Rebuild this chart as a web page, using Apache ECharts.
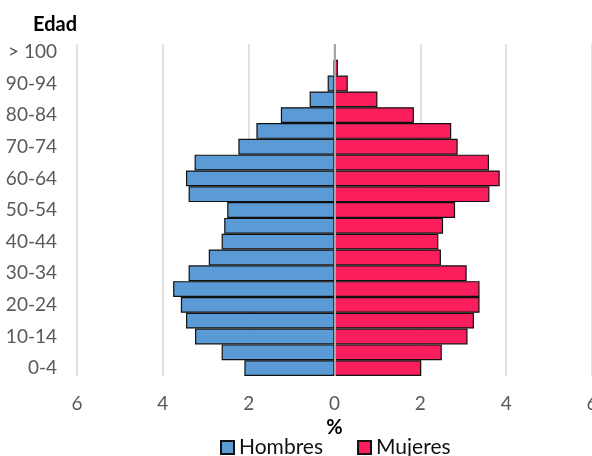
<!DOCTYPE html>
<html>
<head>
<meta charset="utf-8">
<script src="https://cdn.jsdelivr.net/npm/echarts@6/dist/echarts.min.js"></script>
<style>
  html, body { margin: 0; padding: 0; background: #fff; }
  #chart { width: 592px; height: 456px; }
</style>
</head>
<body>
<div id="chart"></div>
<script>
// grupos de edad, de abajo hacia arriba
const categories = ['0-4', '5-9', '10-14', '15-19', '20-24', '25-29', '30-34', '35-39',
  '40-44', '45-49', '50-54', '55-59', '60-64', '65-69', '70-74', '75-79',
  '80-84', '85-89', '90-94', '95-99', '> 100']
// porcentaje de la poblacion
const hombres = [2.10, 2.63, 3.25, 3.46, 3.58, 3.76, 3.40, 2.93, 2.63, 2.57, 2.50,
  3.40, 3.46, 3.26, 2.24, 1.82, 1.25, 0.58, 0.16, 0.02, 0]
const mujeres = [2.02, 2.50, 3.10, 3.25, 3.38, 3.38, 3.08, 2.48, 2.42, 2.53, 2.81,
  3.61, 3.85, 3.60, 2.87, 2.72, 1.85, 1.00, 0.31, 0.08, 0.01]
const xTicks = [-6, -4, -2, 0, 2, 4, 6]

const font = 'Lato, "Open Sans", sans-serif'

const chart = echarts.init(document.getElementById('chart'))
let option = {
  animation: false,
  textStyle: { fontFamily: font },
  title: {
    text: 'Edad',
    left: 28,
    top: 10,
    textStyle: { fontFamily: font, fontSize: 20, fontWeight: 'bold', color: '#000' }
  },
  legend: {
    data: ['Hombres', 'Mujeres'],
    left: 215,
    top: 432,
    icon: 'rect',
    itemWidth: 13,
    itemHeight: 13,
    itemGap: 34,
    textStyle: { fontFamily: font, fontSize: 21, color: '#111' }
  },
  grid: {
    left: 77,
    right: 0,
    top: 44,
    bottom: 80,
    outerBoundsMode: 'none'
  },
  xAxis: {
    type: 'value',
    min: xTicks[0],
    max: xTicks[xTicks.length - 1],
    interval: 2,
    name: '%',
    nameLocation: 'middle',
    nameGap: 40,
    nameTextStyle: { fontFamily: font, fontSize: 20, fontWeight: 'bold', color: '#000' },
    axisLine: { show: false },
    axisTick: { show: false },
    axisLabel: {
      fontSize: 19,
      color: '#595959',
      margin: 18,
      formatter: v => Math.abs(v)
    },
    splitLine: { show: true, lineStyle: { color: '#d9d9d9', width: 1.5 } }
  },
  yAxis: {
    type: 'category',
    data: categories,
    axisLine: { show: false },
    axisTick: { show: false },
    axisLabel: {
      interval: 1,
      fontSize: 19,
      color: '#595959',
      margin: 20
    },
    splitLine: { show: false }
  },
  series: [
    {
      name: 'Hombres',
      type: 'bar',
      stack: 'total',
      barCategoryGap: '0%',
      itemStyle: { color: '#5b9bd5', borderColor: '#111', borderWidth: 1.2 },
      data: hombres.map(v => -v)
    },
    {
      name: 'Mujeres',
      type: 'bar',
      stack: 'total',
      barCategoryGap: '0%',
      itemStyle: { color: '#fa1f5c', borderColor: '#111', borderWidth: 1.2 },
      data: mujeres,
      markLine: {
        silent: true,
        symbol: 'none',
        label: { show: false },
        lineStyle: { color: '#a6a6a6', width: 2, type: 'solid' },
        data: [{ xAxis: 0 }]
      }
    }
  ]
}
chart.setOption(option)
window.onresize = function () {
  chart.resize()
}
</script>
</body>
</html>
